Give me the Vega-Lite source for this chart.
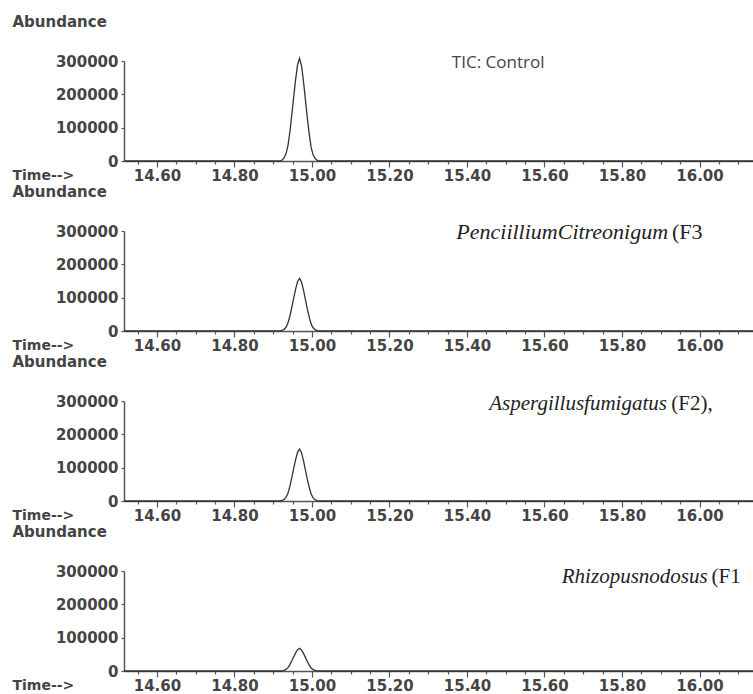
{
  "$schema": "https://vega.github.io/schema/vega-lite/v6.json",
  "padding": {"left": 12, "top": 14, "right": 0, "bottom": 0},
  "background": "white",
  "bounds": "flush",
  "spacing": 70,
  "datasets": {
    "control": [
      {"t": 14.515, "a": 0}, {"t": 14.918, "a": 0}, {"t": 14.923, "a": 3080}, {"t": 14.928, "a": 9240},
      {"t": 14.933, "a": 21560}, {"t": 14.938, "a": 46200}, {"t": 14.943, "a": 86240}, {"t": 14.948, "a": 138600},
      {"t": 14.953, "a": 194040}, {"t": 14.958, "a": 246400}, {"t": 14.963, "a": 289520}, {"t": 14.968, "a": 308000},
      {"t": 14.973, "a": 286440}, {"t": 14.978, "a": 240240}, {"t": 14.983, "a": 184800}, {"t": 14.988, "a": 129360},
      {"t": 14.993, "a": 80080}, {"t": 14.998, "a": 40040}, {"t": 15.003, "a": 18480}, {"t": 15.008, "a": 7700},
      {"t": 15.013, "a": 2464}, {"t": 15.018, "a": 0}, {"t": 16.138, "a": 0}
    ],
    "f3": [
      {"t": 14.515, "a": 0}, {"t": 14.918, "a": 0}, {"t": 14.923, "a": 1580}, {"t": 14.928, "a": 4740},
      {"t": 14.933, "a": 11060}, {"t": 14.938, "a": 23700}, {"t": 14.943, "a": 44240}, {"t": 14.948, "a": 71100},
      {"t": 14.953, "a": 99540}, {"t": 14.958, "a": 126400}, {"t": 14.963, "a": 148520}, {"t": 14.968, "a": 158000},
      {"t": 14.973, "a": 146940}, {"t": 14.978, "a": 123240}, {"t": 14.983, "a": 94800}, {"t": 14.988, "a": 66360},
      {"t": 14.993, "a": 41080}, {"t": 14.998, "a": 20540}, {"t": 15.003, "a": 9480}, {"t": 15.008, "a": 3950},
      {"t": 15.013, "a": 1264}, {"t": 15.018, "a": 0}, {"t": 16.138, "a": 0}
    ],
    "f2": [
      {"t": 14.515, "a": 0}, {"t": 14.918, "a": 0}, {"t": 14.923, "a": 1560}, {"t": 14.928, "a": 4680},
      {"t": 14.933, "a": 10920}, {"t": 14.938, "a": 23400}, {"t": 14.943, "a": 43680}, {"t": 14.948, "a": 70200},
      {"t": 14.953, "a": 98280}, {"t": 14.958, "a": 124800}, {"t": 14.963, "a": 146640}, {"t": 14.968, "a": 156000},
      {"t": 14.973, "a": 145080}, {"t": 14.978, "a": 121680}, {"t": 14.983, "a": 93600}, {"t": 14.988, "a": 65520},
      {"t": 14.993, "a": 40560}, {"t": 14.998, "a": 20280}, {"t": 15.003, "a": 9360}, {"t": 15.008, "a": 3900},
      {"t": 15.013, "a": 1248}, {"t": 15.018, "a": 0}, {"t": 16.138, "a": 0}
    ],
    "f1": [
      {"t": 14.515, "a": 0}, {"t": 14.918, "a": 0}, {"t": 14.923, "a": 680}, {"t": 14.928, "a": 2040},
      {"t": 14.933, "a": 4760}, {"t": 14.938, "a": 10200}, {"t": 14.943, "a": 19040}, {"t": 14.948, "a": 30600},
      {"t": 14.953, "a": 42840}, {"t": 14.958, "a": 54400}, {"t": 14.963, "a": 63920}, {"t": 14.968, "a": 68000},
      {"t": 14.973, "a": 63240}, {"t": 14.978, "a": 53040}, {"t": 14.983, "a": 40800}, {"t": 14.988, "a": 28560},
      {"t": 14.993, "a": 17680}, {"t": 14.998, "a": 8840}, {"t": 15.003, "a": 4080}, {"t": 15.008, "a": 1700},
      {"t": 15.013, "a": 544}, {"t": 15.018, "a": 0}, {"t": 16.138, "a": 0}
    ]
  },
  "vconcat": [
    {
      "width": 629, "height": 100,
      "layer": [
        {
          "data": {"name": "control"},
          "mark": {"type": "line", "color": "#333333", "strokeWidth": 1.3},
          "encoding": {
            "x": {"field": "t", "type": "quantitative", "scale": {"domain": [14.515, 16.138], "nice": false, "zero": false},
              "axis": {"title": "Time-->", "values": [14.55,14.6,14.65,14.7,14.75,14.8,14.85,14.9,14.95,15,15.05,15.1,15.15,15.2,15.25,15.3,15.35,15.4,15.45,15.5,15.55,15.6,15.65,15.7,15.75,15.8,15.85,15.9,15.95,16,16.05,16.1],
                "labelExpr": "abs(datum.value*5 - round(datum.value*5)) < 0.01 ? format(datum.value, '.2f') : ''",
                "tickSize": {"condition": {"test": "abs(datum.value*5 - round(datum.value*5)) < 0.01", "value": 6}, "value": 3}}},
            "y": {"field": "a", "type": "quantitative", "scale": {"domain": [0, 300000], "nice": false},
              "axis": {"title": "Abundance", "values": [0, 100000, 200000, 300000], "format": "d"}}
          }
        },
        {
          "data": {"values": [{}]},
          "mark": {"type": "text", "text": "TIC: Control", "font": "Open Sans", "fontSize": 17, "color": "#444444", "align": "left", "baseline": "middle"},
          "encoding": {
            "x": {"datum": 15.361, "type": "quantitative",
              "axis": {"title": "Time-->", "values": [14.55,14.6,14.65,14.7,14.75,14.8,14.85,14.9,14.95,15,15.05,15.1,15.15,15.2,15.25,15.3,15.35,15.4,15.45,15.5,15.55,15.6,15.65,15.7,15.75,15.8,15.85,15.9,15.95,16,16.05,16.1],
                "labelExpr": "abs(datum.value*5 - round(datum.value*5)) < 0.01 ? format(datum.value, '.2f') : ''",
                "tickSize": {"condition": {"test": "abs(datum.value*5 - round(datum.value*5)) < 0.01", "value": 6}, "value": 3}}},
            "y": {"datum": 294000, "type": "quantitative",
              "axis": {"title": "Abundance", "values": [0, 100000, 200000, 300000], "format": "d"}}
          }
        }
      ]
    },
    {
      "width": 629, "height": 100,
      "layer": [
        {
          "data": {"name": "f3"},
          "mark": {"type": "line", "color": "#333333", "strokeWidth": 1.3},
          "encoding": {
            "x": {"field": "t", "type": "quantitative", "scale": {"domain": [14.515, 16.138], "nice": false, "zero": false},
              "axis": {"title": "Time-->", "values": [14.55,14.6,14.65,14.7,14.75,14.8,14.85,14.9,14.95,15,15.05,15.1,15.15,15.2,15.25,15.3,15.35,15.4,15.45,15.5,15.55,15.6,15.65,15.7,15.75,15.8,15.85,15.9,15.95,16,16.05,16.1],
                "labelExpr": "abs(datum.value*5 - round(datum.value*5)) < 0.01 ? format(datum.value, '.2f') : ''",
                "tickSize": {"condition": {"test": "abs(datum.value*5 - round(datum.value*5)) < 0.01", "value": 6}, "value": 3}}},
            "y": {"field": "a", "type": "quantitative", "scale": {"domain": [0, 300000], "nice": false},
              "axis": {"title": "Abundance", "values": [0, 100000, 200000, 300000], "format": "d"}}
          }
        },
        {
          "data": {"values": [{}]},
          "mark": {"type": "text", "text": "PenciilliumCitreonigum", "font": "Liberation Serif", "fontStyle": "italic", "fontSize": 22, "color": "#222222", "align": "right", "baseline": "middle"},
          "encoding": {
            "x": {"datum": 15.919, "type": "quantitative",
              "axis": {"title": "Time-->", "values": [14.55,14.6,14.65,14.7,14.75,14.8,14.85,14.9,14.95,15,15.05,15.1,15.15,15.2,15.25,15.3,15.35,15.4,15.45,15.5,15.55,15.6,15.65,15.7,15.75,15.8,15.85,15.9,15.95,16,16.05,16.1],
                "labelExpr": "abs(datum.value*5 - round(datum.value*5)) < 0.01 ? format(datum.value, '.2f') : ''",
                "tickSize": {"condition": {"test": "abs(datum.value*5 - round(datum.value*5)) < 0.01", "value": 6}, "value": 3}}},
            "y": {"datum": 297000, "type": "quantitative",
              "axis": {"title": "Abundance", "values": [0, 100000, 200000, 300000], "format": "d"}}
          }
        },
        {
          "data": {"values": [{}]},
          "mark": {"type": "text", "text": "(F3", "font": "Liberation Serif", "fontSize": 22, "color": "#222222", "align": "left", "baseline": "middle"},
          "encoding": {
            "x": {"datum": 15.929, "type": "quantitative",
              "axis": {"title": "Time-->", "values": [14.55,14.6,14.65,14.7,14.75,14.8,14.85,14.9,14.95,15,15.05,15.1,15.15,15.2,15.25,15.3,15.35,15.4,15.45,15.5,15.55,15.6,15.65,15.7,15.75,15.8,15.85,15.9,15.95,16,16.05,16.1],
                "labelExpr": "abs(datum.value*5 - round(datum.value*5)) < 0.01 ? format(datum.value, '.2f') : ''",
                "tickSize": {"condition": {"test": "abs(datum.value*5 - round(datum.value*5)) < 0.01", "value": 6}, "value": 3}}},
            "y": {"datum": 297000, "type": "quantitative",
              "axis": {"title": "Abundance", "values": [0, 100000, 200000, 300000], "format": "d"}}
          }
        }
      ]
    },
    {
      "width": 629, "height": 100,
      "layer": [
        {
          "data": {"name": "f2"},
          "mark": {"type": "line", "color": "#333333", "strokeWidth": 1.3},
          "encoding": {
            "x": {"field": "t", "type": "quantitative", "scale": {"domain": [14.515, 16.138], "nice": false, "zero": false},
              "axis": {"title": "Time-->", "values": [14.55,14.6,14.65,14.7,14.75,14.8,14.85,14.9,14.95,15,15.05,15.1,15.15,15.2,15.25,15.3,15.35,15.4,15.45,15.5,15.55,15.6,15.65,15.7,15.75,15.8,15.85,15.9,15.95,16,16.05,16.1],
                "labelExpr": "abs(datum.value*5 - round(datum.value*5)) < 0.01 ? format(datum.value, '.2f') : ''",
                "tickSize": {"condition": {"test": "abs(datum.value*5 - round(datum.value*5)) < 0.01", "value": 6}, "value": 3}}},
            "y": {"field": "a", "type": "quantitative", "scale": {"domain": [0, 300000], "nice": false},
              "axis": {"title": "Abundance", "values": [0, 100000, 200000, 300000], "format": "d"}}
          }
        },
        {
          "data": {"values": [{}]},
          "mark": {"type": "text", "text": "Aspergillusfumigatus", "font": "Liberation Serif", "fontStyle": "italic", "fontSize": 21, "color": "#222222", "align": "right", "baseline": "middle"},
          "encoding": {
            "x": {"datum": 15.916, "type": "quantitative",
              "axis": {"title": "Time-->", "values": [14.55,14.6,14.65,14.7,14.75,14.8,14.85,14.9,14.95,15,15.05,15.1,15.15,15.2,15.25,15.3,15.35,15.4,15.45,15.5,15.55,15.6,15.65,15.7,15.75,15.8,15.85,15.9,15.95,16,16.05,16.1],
                "labelExpr": "abs(datum.value*5 - round(datum.value*5)) < 0.01 ? format(datum.value, '.2f') : ''",
                "tickSize": {"condition": {"test": "abs(datum.value*5 - round(datum.value*5)) < 0.01", "value": 6}, "value": 3}}},
            "y": {"datum": 291000, "type": "quantitative",
              "axis": {"title": "Abundance", "values": [0, 100000, 200000, 300000], "format": "d"}}
          }
        },
        {
          "data": {"values": [{}]},
          "mark": {"type": "text", "text": "(F2),", "font": "Liberation Serif", "fontSize": 21, "color": "#222222", "align": "left", "baseline": "middle"},
          "encoding": {
            "x": {"datum": 15.927, "type": "quantitative",
              "axis": {"title": "Time-->", "values": [14.55,14.6,14.65,14.7,14.75,14.8,14.85,14.9,14.95,15,15.05,15.1,15.15,15.2,15.25,15.3,15.35,15.4,15.45,15.5,15.55,15.6,15.65,15.7,15.75,15.8,15.85,15.9,15.95,16,16.05,16.1],
                "labelExpr": "abs(datum.value*5 - round(datum.value*5)) < 0.01 ? format(datum.value, '.2f') : ''",
                "tickSize": {"condition": {"test": "abs(datum.value*5 - round(datum.value*5)) < 0.01", "value": 6}, "value": 3}}},
            "y": {"datum": 291000, "type": "quantitative",
              "axis": {"title": "Abundance", "values": [0, 100000, 200000, 300000], "format": "d"}}
          }
        }
      ]
    },
    {
      "width": 629, "height": 100,
      "layer": [
        {
          "data": {"name": "f1"},
          "mark": {"type": "line", "color": "#333333", "strokeWidth": 1.3},
          "encoding": {
            "x": {"field": "t", "type": "quantitative", "scale": {"domain": [14.515, 16.138], "nice": false, "zero": false},
              "axis": {"title": "Time-->", "values": [14.55,14.6,14.65,14.7,14.75,14.8,14.85,14.9,14.95,15,15.05,15.1,15.15,15.2,15.25,15.3,15.35,15.4,15.45,15.5,15.55,15.6,15.65,15.7,15.75,15.8,15.85,15.9,15.95,16,16.05,16.1],
                "labelExpr": "abs(datum.value*5 - round(datum.value*5)) < 0.01 ? format(datum.value, '.2f') : ''",
                "tickSize": {"condition": {"test": "abs(datum.value*5 - round(datum.value*5)) < 0.01", "value": 6}, "value": 3}}},
            "y": {"field": "a", "type": "quantitative", "scale": {"domain": [0, 300000], "nice": false},
              "axis": {"title": "Abundance", "values": [0, 100000, 200000, 300000], "format": "d"}}
          }
        },
        {
          "data": {"values": [{}]},
          "mark": {"type": "text", "text": "Rhizopusnodosus", "font": "Liberation Serif", "fontStyle": "italic", "fontSize": 21, "color": "#222222", "align": "right", "baseline": "middle"},
          "encoding": {
            "x": {"datum": 16.021, "type": "quantitative",
              "axis": {"title": "Time-->", "values": [14.55,14.6,14.65,14.7,14.75,14.8,14.85,14.9,14.95,15,15.05,15.1,15.15,15.2,15.25,15.3,15.35,15.4,15.45,15.5,15.55,15.6,15.65,15.7,15.75,15.8,15.85,15.9,15.95,16,16.05,16.1],
                "labelExpr": "abs(datum.value*5 - round(datum.value*5)) < 0.01 ? format(datum.value, '.2f') : ''",
                "tickSize": {"condition": {"test": "abs(datum.value*5 - round(datum.value*5)) < 0.01", "value": 6}, "value": 3}}},
            "y": {"datum": 282000, "type": "quantitative",
              "axis": {"title": "Abundance", "values": [0, 100000, 200000, 300000], "format": "d"}}
          }
        },
        {
          "data": {"values": [{}]},
          "mark": {"type": "text", "text": "(F1", "font": "Liberation Serif", "fontSize": 21, "color": "#222222", "align": "left", "baseline": "middle"},
          "encoding": {
            "x": {"datum": 16.031, "type": "quantitative",
              "axis": {"title": "Time-->", "values": [14.55,14.6,14.65,14.7,14.75,14.8,14.85,14.9,14.95,15,15.05,15.1,15.15,15.2,15.25,15.3,15.35,15.4,15.45,15.5,15.55,15.6,15.65,15.7,15.75,15.8,15.85,15.9,15.95,16,16.05,16.1],
                "labelExpr": "abs(datum.value*5 - round(datum.value*5)) < 0.01 ? format(datum.value, '.2f') : ''",
                "tickSize": {"condition": {"test": "abs(datum.value*5 - round(datum.value*5)) < 0.01", "value": 6}, "value": 3}}},
            "y": {"datum": 282000, "type": "quantitative",
              "axis": {"title": "Abundance", "values": [0, 100000, 200000, 300000], "format": "d"}}
          }
        }
      ]
    }
  ],
  "config": {
    "view": {"stroke": null},
    "axis": {
      "grid": false,
      "domainColor": "#555555", "domainWidth": 1.5,
      "tickColor": "#555555", "tickWidth": 1.2,
      "labelFont": "DejaVu Sans", "labelFontWeight": "bold", "labelFontSize": 15, "labelColor": "#444444",
      "titleFont": "DejaVu Sans", "titleFontWeight": "bold", "titleFontSize": 14, "titleColor": "#444444",
      "titleAngle": 0, "titleAlign": "left", "titleBaseline": "middle", "labelOverlap": false, "labelFlush": false, "labelBound": false
    },
    "axisX": {"titleX": -112, "titleY": 14, "labelPadding": 1, "titleFontSize": 14},
    "axisY": {"titleX": -112, "titleY": -40, "tickSize": 3, "labelPadding": 3, "labelBaseline": "middle", "titleFontSize": 15}
  }
}
